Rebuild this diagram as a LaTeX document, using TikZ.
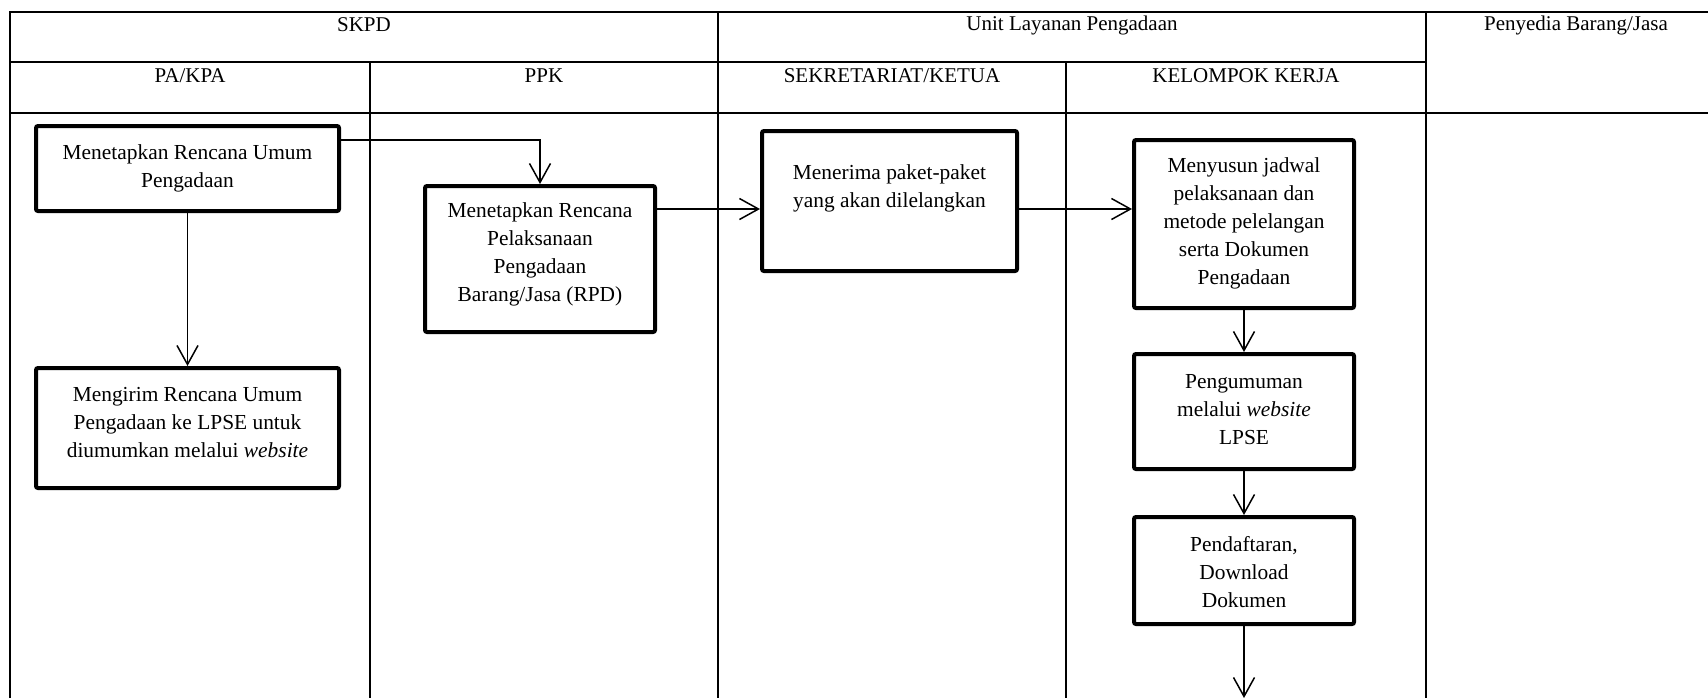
\documentclass[tikz,border=0pt]{standalone}
\usepackage{fontspec}
\setmainfont{Liberation Serif}
\usetikzlibrary{arrows.meta}
\begin{document}
\begin{tikzpicture}[x=0.5pt,y=-0.5pt,
  grid/.style={line width=1pt},
  box/.style={draw, line width=2pt, rounded corners=1pt, inner sep=0pt},
  txt/.style={align=center, inner sep=0pt, font=\fontsize{10.7}{14}\selectfont},
  head/.style={inner sep=0pt, font=\fontsize{10.5}{14}\selectfont},
  arr/.style={line width=0.75pt, -{Straight Barb[length=9.5pt,width=10.5pt,line width=0.75pt]}}]
\useasboundingbox (0,0) rectangle (1708,698);
% table grid
\draw[grid] (10,698) -- (10,12) -- (1708,12);
\draw[grid] (10,62) -- (1426,62);
\draw[grid] (10,113) -- (1708,113);
\draw[grid] (370,62) -- (370,698);
\draw[grid] (718,12) -- (718,698);
\draw[grid] (1066,62) -- (1066,698);
\draw[grid] (1426,12) -- (1426,698);
% headers
\node[head] (h1) at (364,25) {SKPD};
\node[head] (h2) at (1072,25) {Unit Layanan Pengadaan};
\node[head] (h3) at (1576,25) {Penyedia Barang/Jasa};
\node[head] (h4) at (190,76) {PA/KPA};
\node[head] (h5) at (544,76) {PPK};
\node[head] (h6) at (892,76) {SEKRETARIAT/KETUA};
\node[head] (h7) at (1246,76) {KELOMPOK KERJA};
% boxes
\node[box, minimum width=151.5pt, minimum height=42.5pt] (b1) at (187.5,168.5) {};
\node[box, minimum width=151.5pt, minimum height=60pt] (b2) at (187.5,428) {};
\node[box, minimum width=115pt, minimum height=73pt] (b3) at (540,259) {};
\node[box, minimum width=127.5pt, minimum height=70pt] (b4) at (889.5,201) {};
\node[box, minimum width=110pt, minimum height=84pt] (b5) at (1244,224) {};
\node[box, minimum width=110pt, minimum height=57.5pt] (b6) at (1244,411.5) {};
\node[box, minimum width=110pt, minimum height=53.5pt] (b7) at (1244,570.5) {};
% texts
\node[txt] (t1) at (187.5,168) {Menetapkan Rencana Umum\\Pengadaan};
\node[txt] (t2) at (187.5,423) {Mengirim Rencana Umum\\Pengadaan ke LPSE untuk\\diumumkan melalui \textit{website}};
\node[txt] (t3) at (540,254) {Menetapkan Rencana\\Pelaksanaan\\Pengadaan\\Barang/Jasa (RPD)};
\node[txt] (t4) at (889.5,188) {Menerima paket-paket\\yang akan dilelangkan};
\node[txt] (t5) at (1244,223) {Menyusun jadwal\\pelaksanaan dan\\metode pelelangan\\serta Dokumen\\Pengadaan};
\node[txt] (t6) at (1244,410) {Pengumuman\\melalui \textit{website}\\LPSE};
\node[txt] (t7) at (1244,572) {Pendaftaran,\\Download\\Dokumen};
% connectors
\coordinate (r1) at (0,140);
\coordinate (r2) at (0,209);
\coordinate (end) at (1244,698);
\draw[arr] (b1.east |- r1) -| (b3.north);
\draw[arr] (b1.south) -- (b2.north);
\draw[arr] (b3.east |- r2) -- (b4.west |- r2);
\draw[arr] (b4.east |- r2) -- (b5.west |- r2);
\draw[arr] (b5.south) -- (b6.north);
\draw[arr] (b6.south) -- (b7.north);
\draw[arr] (b7.south) -- (end);
\end{tikzpicture}
\end{document}
